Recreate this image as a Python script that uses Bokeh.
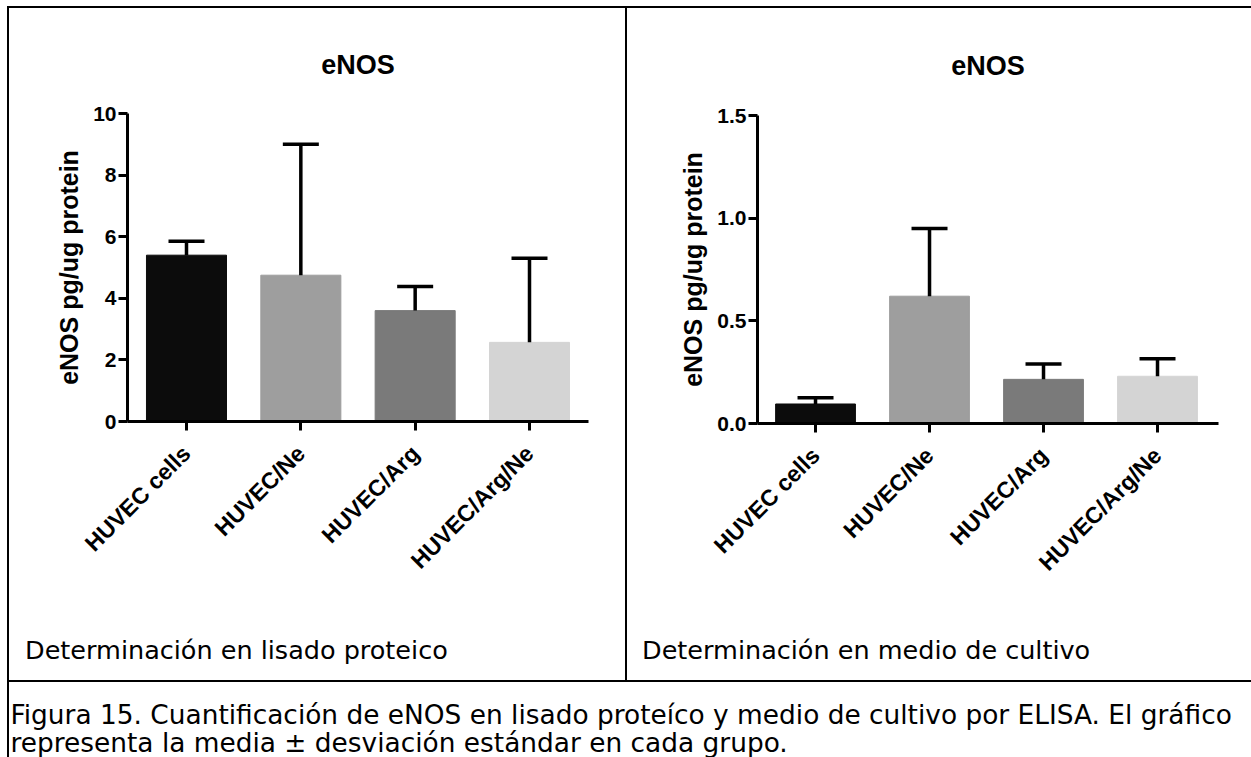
import math

from bokeh.embed import file_html
from bokeh.layouts import column, row
from bokeh.models import (ColumnDataSource, Div, FixedTicker, Label,
                          NumeralTickFormatter, Range1d, Spacer, TeeHead, Whisker)
from bokeh.plotting import figure
from bokeh.resources import INLINE

# ---- data -------------------------------------------------------------
groups = ["HUVEC cells", "HUVEC/Ne", "HUVEC/Arg", "HUVEC/Arg/Ne"]
bar_colors = ["#0c0c0c", "#9e9e9e", "#7a7a7a", "#d4d4d4"]

# eNOS in protein lysate (pg/ug protein): mean and SD
lysate_mean = [5.40, 4.75, 3.60, 2.57]
lysate_sd = [0.45, 4.25, 0.78, 2.73]
lysate_ticks = [0, 2, 4, 6, 8, 10]

# eNOS in culture medium (pg/ug protein): mean and SD
medium_mean = [0.095, 0.62, 0.215, 0.23]
medium_sd = [0.030, 0.33, 0.075, 0.085]
medium_ticks = [0.0, 0.5, 1.0, 1.5]

chart_title = "eNOS"
y_label = "eNOS pg/ug protein"
cell_captions = ["Determinación en lisado proteico", "Determinación en medio de cultivo"]
figure_caption = [
    "Figura 15.  Cuantificación de eNOS en lisado proteíco y medio de cultivo por ELISA. El gráfico",
    "representa la media ± desviación estándar en cada grupo.",
]

CHART_FONT = "Liberation Sans"
TEXT_FONT = "DejaVu Sans"
CELL_H = 672      # height of a table cell
CHART_H = 582     # part of the cell taken by the chart
NOTE_H = CELL_H - CHART_H


def bar_chart(mean, sd, ticks, tick_format, fig_w, borders, x_start, x_end, title_gap):
    mb_left, mb_right, mb_top, mb_bottom = borders

    pos = list(range(1, len(groups) + 1))
    src = ColumnDataSource(dict(
        pos=pos,
        mean=mean,
        upper=[m + s for m, s in zip(mean, sd)],
        color=bar_colors,
    ))

    p = figure(width=fig_w, height=CHART_H, output_backend="svg", toolbar_location=None,
               x_range=Range1d(x_start, x_end), y_range=Range1d(ticks[0], ticks[-1]),
               min_border_left=mb_left, min_border_right=mb_right,
               min_border_top=mb_top, min_border_bottom=mb_bottom,
               background_fill_color="white", border_fill_color="white")
    p.outline_line_color = None
    p.grid.visible = False

    p.title.text = chart_title
    p.title.align = "center"
    p.title.text_font = CHART_FONT
    p.title.text_font_style = "bold"
    p.title.text_font_size = "27px"
    p.title.text_color = "black"
    p.title.standoff = title_gap

    p.vbar(x="pos", top="mean", width=0.7, fill_color="color", line_color="color",
           source=src)

    whisk = Whisker(base="pos", lower="mean", upper="upper", source=src,
                    line_color="black", line_width=3.5, level="overlay",
                    upper_head=TeeHead(size=36, line_color="black", line_width=3.5),
                    lower_head=None)
    p.add_layout(whisk)

    for ax in (p.xaxis[0], p.yaxis[0]):
        ax.axis_line_width = 3
        ax.axis_line_color = "black"
        ax.major_tick_line_width = 3
        ax.major_tick_line_color = "black"
        ax.major_tick_out = 9
        ax.major_tick_in = 0
        ax.minor_tick_line_color = None
        ax.major_label_text_font = CHART_FONT
        ax.major_label_text_font_style = "bold"
        ax.major_label_text_color = "black"

    p.xaxis.ticker = FixedTicker(ticks=pos)
    p.xaxis.major_label_overrides = {k: g for k, g in zip(pos, groups)}
    p.xaxis.major_label_orientation = math.pi / 4
    p.xaxis.major_label_text_font_size = "23px"
    p.xaxis.major_label_standoff = 19

    p.yaxis.ticker = FixedTicker(ticks=ticks)
    p.yaxis.formatter = NumeralTickFormatter(format=tick_format)
    p.yaxis.major_label_text_font_size = "21px"
    p.yaxis.major_label_standoff = 2
    p.yaxis.axis_label = y_label
    p.yaxis.axis_label_text_font = CHART_FONT
    p.yaxis.axis_label_text_font_style = "bold"
    p.yaxis.axis_label_text_font_size = "25px"
    p.yaxis.axis_label_text_color = "black"
    p.yaxis.axis_label_standoff = 7
    return p


def cell_note(width, text, left_pad):
    """Plain caption line at the foot of a table cell."""
    return Div(text=text, width=width, height=NOTE_H, margin=0,
               styles={"font-family": TEXT_FONT, "font-size": "25.5px", "color": "black",
                       "line-height": "1", "padding-left": f"{left_pad}px",
                       "padding-top": "48px", "box-sizing": "border-box",
                       "white-space": "nowrap", "background-color": "white"})


def text_block(width, height, lines, x, baselines, size):
    """A blank canvas carrying plain lines of text (y given as baseline from the bottom)."""
    t = figure(width=width, height=height, output_backend="svg", toolbar_location=None,
               x_range=Range1d(0, width), y_range=Range1d(0, height),
               x_axis_location=None, y_axis_location=None, title_location=None,
               min_border=0, background_fill_color="white", border_fill_color="white")
    t.outline_line_color = None
    t.grid.visible = False
    for line, yb in zip(lines, baselines):
        t.add_layout(Label(x=x, y=yb, x_units="screen", y_units="screen",
                           text=line, text_align="left", text_baseline="alphabetic",
                           text_font=TEXT_FONT, text_font_size=size, text_color="black"))
    return t


left_chart = bar_chart(lysate_mean, lysate_sd, lysate_ticks, "0", 616,
                       (118, 37, 105, 169), 0.484, 4.516, 68)
right_chart = bar_chart(medium_mean, medium_sd, medium_ticks, "0.0", 624,
                        (130, 33, 107, 167), 0.491, 4.535, 70)

left_note = cell_note(616, cell_captions[0], 16)
right_note = cell_note(624, cell_captions[1], 15)

caption = text_block(1242, 75, figure_caption, 1, [43, 15], "26.4px")


def rule(w, h):
    return Div(width=w, height=h, margin=0, styles={"background-color": "black"})


def gap(w, h):
    return Spacer(width=w, height=h, margin=0)


left_cell = column(left_chart, left_note, spacing=0, margin=0)
right_cell = column(right_chart, right_note, spacing=0, margin=0)

page = column(
    gap(1251, 6),
    row(gap(7, 2), rule(1244, 2), spacing=0, margin=0),
    row(gap(7, CELL_H), rule(2, CELL_H), left_cell, rule(2, CELL_H), right_cell,
        spacing=0, margin=0),
    row(gap(7, 2), rule(1244, 2), spacing=0, margin=0),
    row(gap(7, 75), rule(2, 75), caption, spacing=0, margin=0),
    spacing=0, margin=0,
)

with open("out.html", "w") as f:
    f.write(file_html(page, INLINE))
